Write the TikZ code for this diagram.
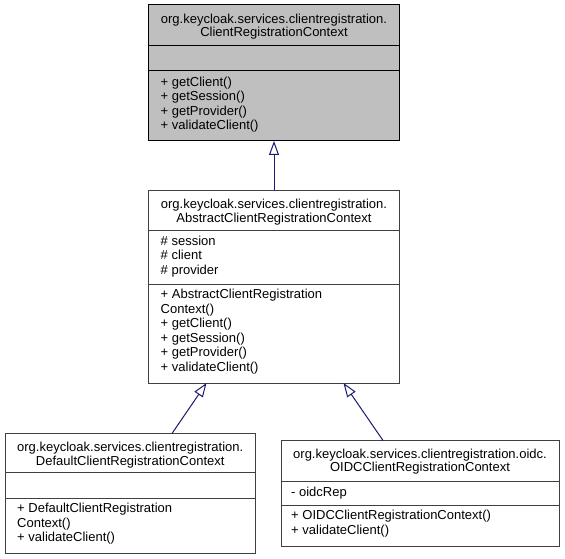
\documentclass[tikz,border=0pt]{standalone}
\usepackage{fontspec}
\setmainfont{Liberation Sans}
\usetikzlibrary{arrows.meta}
\definecolor{edgeblue}{HTML}{191970}
\definecolor{topfill}{HTML}{BFBFBF}
\definecolor{boxline}{HTML}{404040}
\begin{document}
\begin{tikzpicture}[x=1pt,y=-1pt,
  classbox/.style={draw=boxline, line width=1pt, fill=white, rectangle, inner sep=0pt, outer sep=0pt, anchor=north west},
  focusbox/.style={classbox, draw=black, fill=topfill},
  sepline/.style={draw=boxline, line width=1pt},
  focussep/.style={draw=black, line width=1pt},
  lbl/.style={inner sep=0pt, font=\fontsize{13pt}{14.5pt}\selectfont},
  title/.style={lbl, anchor=base},
  member/.style={lbl, anchor=base west},
  inherit/.style={draw=edgeblue, line width=1pt, -{Triangle[open,length=14pt,width=10pt]}}
]
\useasboundingbox[fill=white] (0,0) rectangle (565,559);

% ---- boxes
\node[focusbox, minimum width=251pt, minimum height=136pt] (top) at (148.5,5) {};
\node[classbox, minimum width=251pt, minimum height=193pt] (mid) at (148.5,190) {};
\node[classbox, minimum width=250.5pt, minimum height=120pt] (dl) at (5,433.5) {};
\node[classbox, minimum width=278pt, minimum height=105.5pt] (dr) at (281,440.5) {};

% ---- separators
\draw[focussep] (148.5,46) -- (399.5,46);
\draw[focussep] (148.5,71) -- (399.5,71);
\draw[sepline] (148.5,230.5) -- (399.5,230.5);
\draw[sepline] (148.5,284) -- (399.5,284);
\draw[sepline] (5,472) -- (255.5,472);
\draw[sepline] (5,498) -- (255.5,498);
\draw[sepline] (281,481) -- (559,481);
\draw[sepline] (281,505) -- (559,505);

% ---- top box text
\node[title] (t-t1) at (274,23.5) {org.keycloak.services.clientregistration.};
\node[title] (t-t2) at (274,37) {ClientRegistrationContext};
\node[member] (t-m1) at (160.5,86.5) {+ getClient()};
\node[member] (t-m2) at (160.5,101) {+ getSession()};
\node[member] (t-m3) at (160.5,115.5) {+ getProvider()};
\node[member] (t-m4) at (160.5,130) {+ validateClient()};

% ---- middle box text
\node[title] (m-t1) at (274,208.5) {org.keycloak.services.clientregistration.};
\node[title] (m-t2) at (274,222) {AbstractClientRegistrationContext};
\node[member] (m-a1) at (160.5,245) {\# session};
\node[member] (m-a2) at (160.5,259.5) {\# client};
\node[member] (m-a3) at (160.5,274) {\# provider};
\node[member] (m-m1) at (160.5,298.5) {+ AbstractClientRegistration};
\node[member] (m-m2) at (160.5,313) {Context()};
\node[member] (m-m3) at (160.5,327.5) {+ getClient()};
\node[member] (m-m4) at (160.5,342) {+ getSession()};
\node[member] (m-m5) at (160.5,356.5) {+ getProvider()};
\node[member] (m-m6) at (160.5,371) {+ validateClient()};

% ---- bottom-left box text
\node[title] (l-t1) at (130.25,451.5) {org.keycloak.services.clientregistration.};
\node[title] (l-t2) at (130.25,465) {DefaultClientRegistrationContext};
\node[member] (l-m1) at (17,512.5) {+ DefaultClientRegistration};
\node[member] (l-m2) at (17,527) {Context()};
\node[member] (l-m3) at (17,541.5) {+ validateClient()};

% ---- bottom-right box text
\node[title] (r-t1) at (420,458) {org.keycloak.services.clientregistration.oidc.};
\node[title] (r-t2) at (420,471.5) {OIDCClientRegistrationContext};
\node[member] (r-a1) at (291,496) {- oidcRep};
\node[member] (r-m1) at (291,519.5) {+ OIDCClientRegistrationContext()};
\node[member] (r-m2) at (291,534) {+ validateClient()};

% ---- inheritance connectors
\draw[inherit] (mid.north) -- (top.south);
\draw[inherit] ([xshift=167pt]dl.north west) -- ([xshift=58pt]mid.south west);
\draw[inherit] ([xshift=102pt]dr.north west) -- ([xshift=195pt]mid.south west);
\end{tikzpicture}
\end{document}
